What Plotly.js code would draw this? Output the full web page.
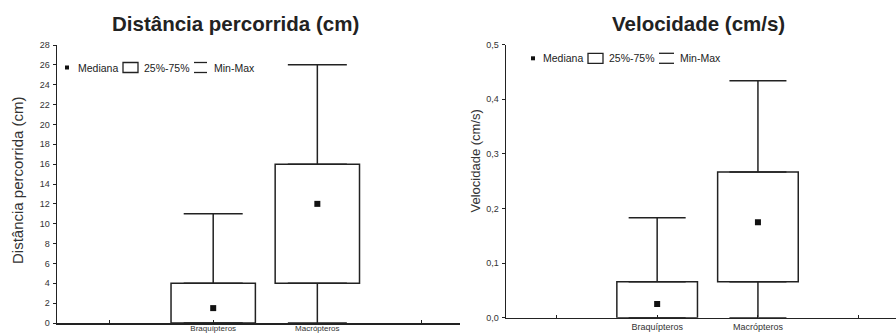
<!DOCTYPE html>
<html>
<head>
<meta charset="utf-8">
<script src="https://cdn.plot.ly/plotly-3.0.1.min.js"></script>
<style>html,body{margin:0;padding:0;background:#fff;}#chart{width:896px;height:335px;}</style>
</head>
<body>
<div id="chart"></div>
<script>
// ---- data ----
const categories = ['Braquípteros', 'Macrópteros'];
// Distância percorrida (cm)
const distMin    = [0, 0];
const distQ1     = [0, 4];
const distMedian = [1.5, 12];
const distQ3     = [4, 16];
const distMax    = [11, 26];
// Velocidade (cm/s)
const velMin    = [0, 0];
const velQ1     = [0, 0.066];
const velMedian = [0.025, 0.175];
const velQ3     = [0.066, 0.267];
const velMax    = [0.183, 0.434];
const distTicks = [0,2,4,6,8,10,12,14,16,18,20,22,24,26,28];
const velTicks  = [0, 0.1, 0.2, 0.3, 0.4, 0.5];
const legendLabels = ['Mediana', '25%-75%', 'Min-Max'];

// ---- layout helpers ----
const W = 896, H = 335;
const PX = p => p / W;
const PY = p => 1 - p / H;
const ink = '#222';
const FAM = 'Liberation Sans, Arial, sans-serif';
const xpos = categories.map((c, i) => i + 2);
const tickvals = [1].concat(xpos, [xpos.length + 2]);
const ticktext = [''].concat(categories, ['']);
const fmtComma = v => v.toFixed(1).replace('.', ',');

function boxTraces(xa, ya, q1, med, q3, mn, mx, width, capHalf) {
  return [
    { type: 'bar', x: xpos, base: q1, y: q3.map((v, i) => v - q1[i]), width: width,
      xaxis: xa, yaxis: ya, marker: { color: '#fff', line: { color: ink, width: 1.5 } },
      showlegend: false, hoverinfo: 'skip' },
    { type: 'scatter', mode: 'markers', x: xpos, y: q3, xaxis: xa, yaxis: ya,
      marker: { size: 1, color: 'rgba(0,0,0,0)' }, showlegend: false, hoverinfo: 'skip',
      error_y: { type: 'data', symmetric: false, array: mx.map((v, i) => v - q3[i]),
        arrayminus: q3.map(() => 0), width: capHalf, thickness: 1.5, color: ink } },
    { type: 'scatter', mode: 'markers', x: xpos, y: q1, xaxis: xa, yaxis: ya,
      marker: { size: 1, color: 'rgba(0,0,0,0)' }, showlegend: false, hoverinfo: 'skip',
      error_y: { type: 'data', symmetric: false, array: q1.map(() => 0),
        arrayminus: q1.map((v, i) => v - mn[i]), width: capHalf, thickness: 1.5, color: ink } },
    { type: 'scatter', mode: 'markers', x: xpos, y: med, xaxis: xa, yaxis: ya,
      marker: { symbol: 'square', size: 6, color: '#111' }, showlegend: false, hoverinfo: 'skip' }
  ];
}

const data = []
  .concat(boxTraces('x', 'y', distQ1, distMedian, distQ3, distMin, distMax, 0.81, 29.5))
  .concat(boxTraces('x2', 'y2', velQ1, velMedian, velQ3, velMin, velMax, 0.80, 28.5));

const tickFont = { family: FAM, size: 9, color: '#333' };
const xBase = { range: [0.5, 4.37], tickmode: 'array', tickvals: tickvals, ticktext: ticktext,
  ticks: 'inside', ticklen: 3, tickwidth: 1, tickcolor: ink, showline: true, linecolor: ink,
  linewidth: 1.5, showgrid: false, zeroline: false, tickfont: tickFont, fixedrange: true };
const yBase = { ticks: 'outside', ticklen: 3, tickwidth: 1, tickcolor: ink, showline: true,
  linecolor: ink, linewidth: 1.5, showgrid: false, zeroline: false, tickfont: tickFont,
  ticklabelstandoff: 1, fixedrange: true };

const shapes = [];
const annotations = [];
function legend(x0, yc, off) {
  // off: [text1, rectStart, rectEnd, text2, lineStart, lineEnd, text3] pixel offsets
  const f = { family: FAM, size: 10.5, color: '#222' };
  shapes.push({ type: 'rect', xref: 'paper', yref: 'paper', x0: PX(x0), x1: PX(x0 + 4),
    y0: PY(yc + 2), y1: PY(yc - 2), fillcolor: '#111', line: { width: 0 } });
  annotations.push({ xref: 'paper', yref: 'paper', x: PX(x0 + off[0]), y: PY(yc), xanchor: 'left',
    yanchor: 'middle', text: legendLabels[0], showarrow: false, font: f, xshift: -1 });
  shapes.push({ type: 'rect', xref: 'paper', yref: 'paper', x0: PX(x0 + off[1]), x1: PX(x0 + off[2]),
    y0: PY(yc + 5), y1: PY(yc - 5), fillcolor: '#fff', line: { color: ink, width: 1.3 } });
  annotations.push({ xref: 'paper', yref: 'paper', x: PX(x0 + off[3]), y: PY(yc), xanchor: 'left',
    yanchor: 'middle', text: legendLabels[1], showarrow: false, font: f, xshift: -1 });
  shapes.push({ type: 'line', xref: 'paper', yref: 'paper', x0: PX(x0 + off[4]), x1: PX(x0 + off[5]),
    y0: PY(yc - 5), y1: PY(yc - 5), line: { color: ink, width: 1.3 } });
  shapes.push({ type: 'line', xref: 'paper', yref: 'paper', x0: PX(x0 + off[4]), x1: PX(x0 + off[5]),
    y0: PY(yc + 5), y1: PY(yc + 5), line: { color: ink, width: 1.3 } });
  annotations.push({ xref: 'paper', yref: 'paper', x: PX(x0 + off[6]), y: PY(yc), xanchor: 'left',
    yanchor: 'middle', text: legendLabels[2], showarrow: false, font: f, xshift: -1 });
}
legend(65, 67.5, [12, 58, 73, 78, 129, 142, 148]);
legend(531, 58.3, [11, 57, 72, 77, 128, 143, 148]);

const titleFont = { family: FAM, size: 20.5, color: '#222' };
annotations.push({ xref: 'paper', yref: 'paper', x: PX(235), y: PY(23), xanchor: 'center',
  yanchor: 'middle', text: '<b>Distância percorrida (cm)</b>', showarrow: false, font: titleFont });
annotations.push({ xref: 'paper', yref: 'paper', x: PX(698), y: PY(23), xanchor: 'center',
  yanchor: 'middle', text: '<b>Velocidade (cm/s)</b>', showarrow: false, font: titleFont });
annotations.push({ xref: 'paper', yref: 'paper', x: PX(17), y: PY(180), xanchor: 'center',
  yanchor: 'middle', text: 'Distância percorrida (cm)', textangle: -90, showarrow: false,
  font: { family: FAM, size: 15, color: '#333' } });
annotations.push({ xref: 'paper', yref: 'paper', x: PX(475), y: PY(161.5), xanchor: 'center',
  yanchor: 'middle', text: 'Velocidade (cm/s)', textangle: -90, showarrow: false,
  font: { family: FAM, size: 13, color: '#333' } });

const layout = {
  width: W, height: H, margin: { l: 0, r: 0, t: 0, b: 0 },
  paper_bgcolor: '#fff', plot_bgcolor: '#fff', showlegend: false, bargap: 0,
  font: { family: FAM, color: '#222' },
  xaxis: Object.assign({}, xBase, { domain: [PX(57), PX(460)], anchor: 'y',
    tickfont: { family: FAM, size: 8, color: '#333' }, ticklabelstandoff: -3 }),
  yaxis: Object.assign({}, yBase, { domain: [PY(323), PY(45)], range: [0, 28], anchor: 'x',
    tickvals: distTicks, ticktext: distTicks.map(String), tickmode: 'array' }),
  xaxis2: Object.assign({}, xBase, { domain: [PX(506), PX(896)], anchor: 'y2' }),
  yaxis2: Object.assign({}, yBase, { domain: [PY(317.7), PY(44.7)], range: [0, 0.5], anchor: 'x2',
    tickvals: velTicks, ticktext: velTicks.map(fmtComma), tickmode: 'array' }),
  shapes: shapes, annotations: annotations
};

Plotly.newPlot('chart', data, layout, { displayModeBar: false, staticPlot: true });
</script>
</body>
</html>
